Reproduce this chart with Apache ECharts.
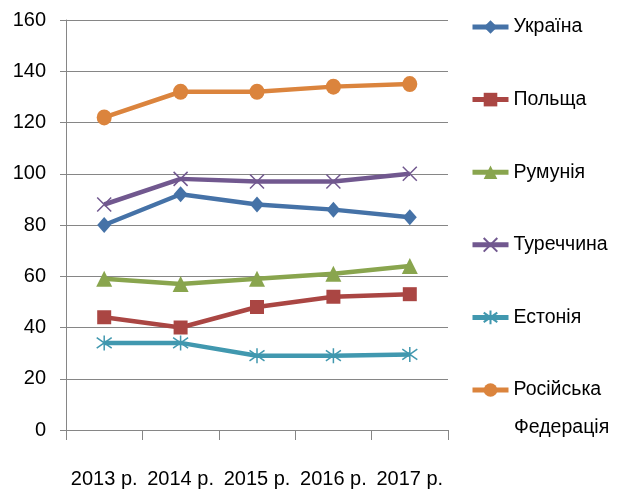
<!DOCTYPE html>
<html>
<head>
<meta charset="utf-8">
<script src="https://cdn.jsdelivr.net/npm/echarts@6/dist/echarts.min.js"></script>
<style>
html,body{margin:0;padding:0;background:#fff;}
#chart{width:619px;height:495px;}
</style>
</head>
<body>
<div id="chart"></div>
<script>
const categories = ['2013 р.', '2014 р.', '2015 р.', '2016 р.', '2017 р.'];
const ukraine = [80, 92, 88, 86, 83];
const poland = [44, 40, 48, 52, 53];
const romania = [59, 57, 59, 61, 64];
const turkey = [88, 98, 97, 97, 100];
const estonia = [34, 34, 29, 29, 29.5];
const russia = [122, 132, 132, 134, 135];
const seriesNames = ['Україна', 'Польща', 'Румунія', 'Туреччина', 'Естонія', 'Російська Федерація'];
const yTicks = { min: 0, max: 160, interval: 20 };

const FONT = "'Liberation Sans', Arial, sans-serif";
const colors = ['#4572A7', '#AA4643', '#89A54E', '#71588F', '#4198AF', '#DB843D'];
const symbols = [
  'diamond',
  'rect',
  'triangle',
  'path://M0,0L10,10M10,0L0,10',
  'path://M5,0L5,10M0,1.5L10,8.5M10,1.5L0,8.5',
  'circle'
];
const sizes = [[14, 16], 14, 16, 14, 15, [15, 16]];
const dataSets = [ukraine, poland, romania, turkey, estonia, russia];

const series = dataSets.map((d, i) => {
  const isPath = symbols[i].startsWith('path://');
  return {
    name: seriesNames[i],
    type: 'line',
    data: d,
    symbol: symbols[i],
    symbolSize: sizes[i],
    showAllSymbol: true,
    lineStyle: { color: colors[i], width: 4.5 },
    itemStyle: isPath
      ? { color: colors[i], borderColor: colors[i], borderWidth: 1.5 }
      : { color: colors[i], borderWidth: 0 },
    emphasis: { disabled: true },
    animation: false
  };
});

const chart = echarts.init(document.getElementById('chart'), null, { renderer: 'canvas' });
chart.setOption({
  backgroundColor: '#ffffff',
  animation: false,
  color: colors,
  grid: { left: 66, right: 171, top: 20, bottom: 65, containLabel: false },
  xAxis: {
    type: 'category',
    data: categories,
    boundaryGap: true,
    axisLine: { lineStyle: { color: '#868686', width: 1 } },
    axisTick: { show: true, length: 10, inside: false, lineStyle: { color: '#868686' } },
    axisLabel: { color: '#000', fontFamily: FONT, fontSize: 20, margin: 39, interval: 0 },
    splitLine: { show: false }
  },
  yAxis: {
    type: 'value',
    min: yTicks.min,
    max: yTicks.max,
    interval: yTicks.interval,
    axisLine: { show: true, lineStyle: { color: '#868686', width: 1 } },
    axisTick: { show: true, length: 6, lineStyle: { color: '#868686' } },
    axisLabel: { color: '#000', fontFamily: FONT, fontSize: 20, margin: 20 },
    splitLine: { show: true, lineStyle: { color: '#868686', width: 1 } }
  },
  legend: {
    orient: 'vertical',
    left: 465,
    top: 10,
    padding: 5,
    itemWidth: 36,
    itemHeight: 17,
    itemGap: 48.6,
    selectedMode: false,
    data: seriesNames,
    lineStyle: { width: 5 },
    formatter: function (name) { return name === 'Російська Федерація' ? 'Російська' : name; },
    textStyle: { color: '#000', fontFamily: FONT, fontSize: 19.5, lineHeight: 24 }
  },
  graphic: [{
    type: 'text',
    left: 514,
    top: 418,
    style: { text: 'Федерація', fill: '#000', font: '19.5px ' + FONT }
  }],
  series: series
});
</script>
</body>
</html>
